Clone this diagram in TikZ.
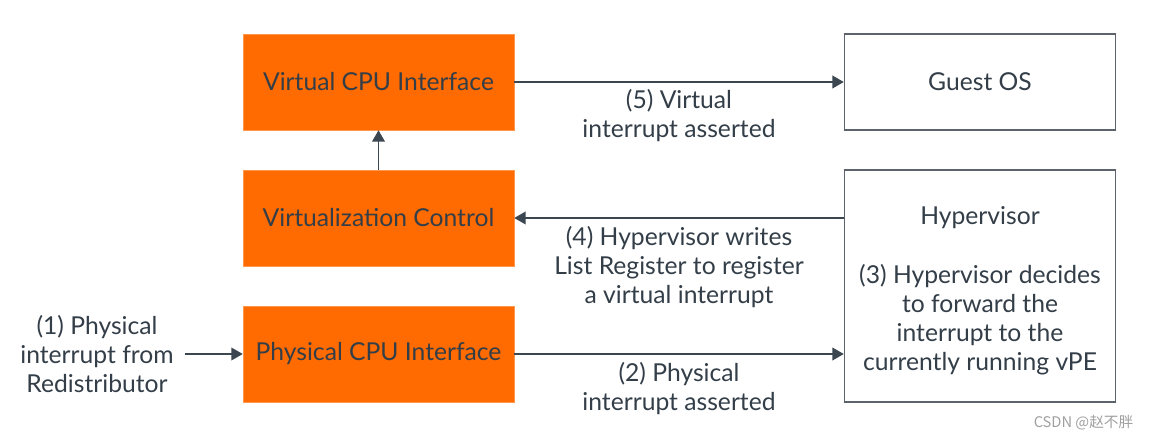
\documentclass[tikz,border=0pt]{standalone}
\usepackage{fontspec}
\setmainfont{Lato}
\newfontfamily\cjk{Noto Sans CJK SC}
\usetikzlibrary{arrows.meta}

\definecolor{armorange}{HTML}{FF6B00}
\definecolor{armtext}{HTML}{333E48}
\definecolor{armline}{HTML}{3B4650}
\definecolor{armframe}{HTML}{5C636B}

\tikzset{
	blockbox/.style={fill=armorange, draw=armorange!70, line width=0.4pt,
		minimum width=271*0.75pt, minimum height=96*0.75pt, inner sep=0pt,
		text=armtext},
	whitebox/.style={draw=armframe, line width=1.1pt, fill=white,
		minimum width=271*0.75pt, inner sep=0pt, text=armtext},
	flowlabel/.style={align=center, text=armtext, inner sep=0pt},
	flow/.style={draw=armline, line width=1.1pt,
		-{Triangle[length=8.5pt, width=9.5pt]}}
}

\begin{document}
\begin{tikzpicture}[x=0.75pt, y=-0.75pt, font=\fontsize{18.5}{21.8}\selectfont]
	\useasboundingbox (0,0) rectangle (1151,441);
	% Bloecke links
	\node[blockbox] (vcpu) at (378.5, 82) {Virtual CPU Interface};
	\node[blockbox] (vctrl) at (378.5, 218) {Virtualization Control};
	\node[blockbox] (pcpu) at (378.5, 354) {Physical CPU Interface};
	% Bloecke rechts
	\node[whitebox, minimum height=96*0.75pt] (guest) at (980, 82) {Guest OS};
	\node[whitebox, minimum height=232*0.75pt] (hyp) at (980, 286) {};
	\node[flowlabel] (hyptitle) at (980, 218) {Hypervisor};
	\node[flowlabel] (hypstep) at (980, 320) {(3) Hypervisor decides\\to forward the\\interrupt to the\\currently running vPE};
	% Eingang
	\node[flowlabel] (irqin) at (97, 354) {(1) Physical\\interrupt from\\Redistributor};
	\coordinate (irqstart) at (185, 354);
	% Beschriftungen der Pfeile
	\node[flowlabel] (step5) at (679, 116) {(5) Virtual\\interrupt asserted};
	\node[flowlabel] (step4) at (679, 267) {(4) Hypervisor writes\\List Register to register\\a virtual interrupt};
	\node[flowlabel] (step2) at (679, 389) {(2) Physical\\interrupt asserted};
	% Pfeile
	\draw[flow] (irqstart) -- (pcpu.west);
	\draw[flow] (pcpu.east) -- (pcpu.east -| hyp.west);
	\draw[flow] (vctrl.east -| hyp.west) -- (vctrl.east);
	\draw[flow] (vctrl.north) -- (vcpu.south);
	\draw[flow] (vcpu.east) -- (guest.west);
	% Wasserzeichen
	\node[text=gray!75, font=\cjk\fontsize{11}{13}\selectfont, anchor=east] (mark) at (1138, 423) {CSDN @赵不胖};
\end{tikzpicture}
\end{document}
